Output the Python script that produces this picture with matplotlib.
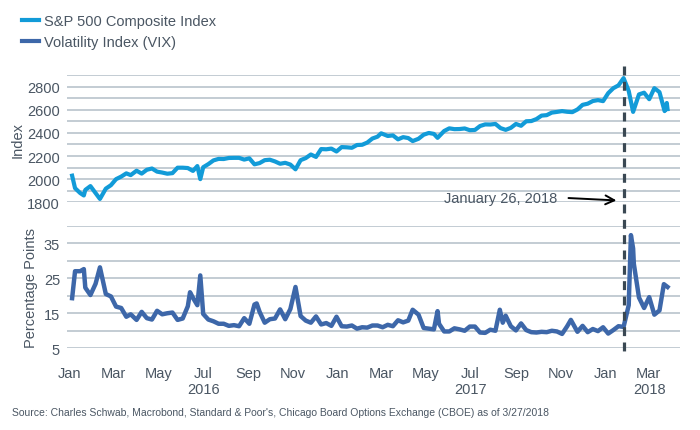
import numpy as np
import pandas as pd
import matplotlib
matplotlib.use("Agg")
import matplotlib.pyplot as plt
import matplotlib.dates as mdates
import matplotlib.transforms as mtransforms
from matplotlib.lines import Line2D

# ------------------------------------------------------------------
# Data (roughly weekly plus the turning points)
# ------------------------------------------------------------------
spx_dates = [
    "2016-01-04", "2016-01-08", "2016-01-15", "2016-01-20", "2016-01-22", "2016-01-29",
    "2016-02-05", "2016-02-11", "2016-02-19", "2016-02-26", "2016-03-04", "2016-03-11",
    "2016-03-18", "2016-03-24", "2016-04-01", "2016-04-08", "2016-04-15", "2016-04-22",
    "2016-04-29", "2016-05-06", "2016-05-13", "2016-05-20", "2016-05-27", "2016-06-03",
    "2016-06-10", "2016-06-17", "2016-06-23", "2016-06-27", "2016-07-01", "2016-07-08",
    "2016-07-15", "2016-07-22", "2016-07-29", "2016-08-05", "2016-08-12", "2016-08-19",
    "2016-08-26", "2016-09-02", "2016-09-09", "2016-09-16", "2016-09-23", "2016-09-30",
    "2016-10-07", "2016-10-14", "2016-10-21", "2016-10-28", "2016-11-04", "2016-11-11",
    "2016-11-18", "2016-11-25", "2016-12-02", "2016-12-09", "2016-12-16", "2016-12-23",
    "2016-12-30", "2017-01-06", "2017-01-13", "2017-01-20", "2017-01-27", "2017-02-03",
    "2017-02-10", "2017-02-17", "2017-02-24", "2017-03-01", "2017-03-10", "2017-03-17",
    "2017-03-24", "2017-03-31", "2017-04-07", "2017-04-13", "2017-04-21", "2017-04-28",
    "2017-05-05", "2017-05-12", "2017-05-17", "2017-05-26", "2017-06-02", "2017-06-09",
    "2017-06-16", "2017-06-23", "2017-06-30", "2017-07-07", "2017-07-14", "2017-07-21",
    "2017-07-28", "2017-08-04", "2017-08-11", "2017-08-18", "2017-08-25", "2017-09-01",
    "2017-09-08", "2017-09-15", "2017-09-22", "2017-09-29", "2017-10-06", "2017-10-13",
    "2017-10-20", "2017-10-27", "2017-11-03", "2017-11-10", "2017-11-17", "2017-11-24",
    "2017-12-01", "2017-12-08", "2017-12-15", "2017-12-22", "2017-12-29", "2018-01-05",
    "2018-01-12", "2018-01-19", "2018-01-26", "2018-02-02", "2018-02-08", "2018-02-16",
    "2018-02-23", "2018-03-02", "2018-03-09", "2018-03-16", "2018-03-23", "2018-03-26",
    "2018-03-27",
]
spx_values = [
    2030, 1922, 1880, 1859, 1907, 1940,
    1880, 1829, 1918, 1948, 2000, 2022,
    2050, 2035, 2073, 2048, 2081, 2092,
    2065, 2057, 2047, 2052, 2099, 2099,
    2096, 2071, 2113, 2000, 2103, 2130,
    2162, 2175, 2174, 2183, 2184, 2184,
    2169, 2180, 2128, 2139, 2164, 2168,
    2153, 2133, 2141, 2126, 2085, 2164,
    2182, 2213, 2192, 2260, 2258, 2264,
    2239, 2277, 2275, 2271, 2295, 2297,
    2316, 2351, 2367, 2396, 2373, 2378,
    2344, 2363, 2355, 2329, 2349, 2384,
    2399, 2391, 2357, 2416, 2439, 2432,
    2433, 2438, 2423, 2425, 2459, 2473,
    2472, 2477, 2441, 2426, 2443, 2477,
    2461, 2500, 2502, 2519, 2549, 2553,
    2575, 2581, 2588, 2582, 2579, 2602,
    2642, 2652, 2675, 2683, 2674, 2743,
    2786, 2810, 2873, 2762, 2581, 2732,
    2747, 2691, 2786, 2752, 2588, 2658,
    2605,
]

vix_dates = [
    "2016-01-04", "2016-01-08", "2016-01-15", "2016-01-20", "2016-01-22", "2016-01-29",
    "2016-02-05", "2016-02-11", "2016-02-19", "2016-02-26", "2016-03-04", "2016-03-11",
    "2016-03-18", "2016-03-24", "2016-04-01", "2016-04-08", "2016-04-15", "2016-04-22",
    "2016-04-29", "2016-05-06", "2016-05-13", "2016-05-20", "2016-05-27", "2016-06-03",
    "2016-06-10", "2016-06-13", "2016-06-17", "2016-06-23", "2016-06-27", "2016-07-01",
    "2016-07-08", "2016-07-15", "2016-07-22", "2016-07-29", "2016-08-05", "2016-08-12",
    "2016-08-19", "2016-08-26", "2016-09-02", "2016-09-09", "2016-09-12", "2016-09-16",
    "2016-09-23", "2016-09-30", "2016-10-07", "2016-10-14", "2016-10-21", "2016-10-28",
    "2016-11-04", "2016-11-11", "2016-11-18", "2016-11-25", "2016-12-02", "2016-12-09",
    "2016-12-16", "2016-12-23", "2016-12-30", "2017-01-06", "2017-01-13", "2017-01-20",
    "2017-01-27", "2017-02-03", "2017-02-10", "2017-02-17", "2017-02-24", "2017-03-03",
    "2017-03-10", "2017-03-17", "2017-03-24", "2017-03-31", "2017-04-07", "2017-04-13",
    "2017-04-21", "2017-04-28", "2017-05-05", "2017-05-12", "2017-05-17", "2017-05-19",
    "2017-05-26", "2017-06-02", "2017-06-09", "2017-06-16", "2017-06-23", "2017-06-30",
    "2017-07-07", "2017-07-14", "2017-07-21", "2017-07-28", "2017-08-04", "2017-08-10",
    "2017-08-14", "2017-08-18", "2017-08-25", "2017-09-01", "2017-09-08", "2017-09-15",
    "2017-09-22", "2017-09-29", "2017-10-06", "2017-10-13", "2017-10-20", "2017-10-27",
    "2017-11-03", "2017-11-10", "2017-11-15", "2017-11-24", "2017-12-01", "2017-12-08",
    "2017-12-15", "2017-12-22", "2017-12-29", "2018-01-05", "2018-01-12", "2018-01-19",
    "2018-01-26", "2018-02-02", "2018-02-05", "2018-02-08", "2018-02-09", "2018-02-16",
    "2018-02-23", "2018-03-02", "2018-03-09", "2018-03-16", "2018-03-22", "2018-03-27",
]
vix_values = [
    19.3, 27.0, 27.0, 27.6, 22.3, 20.2,
    23.4, 28.1, 20.5, 19.8, 16.9, 16.5,
    14.0, 14.7, 13.1, 15.4, 13.6, 13.2,
    15.7, 14.7, 15.0, 15.2, 13.1, 13.5,
    17.0, 21.0, 19.4, 17.3, 25.8, 14.8,
    13.2, 12.7, 12.0, 12.0, 11.4, 11.6,
    11.3, 13.6, 12.0, 17.5, 17.8, 15.4,
    12.3, 13.3, 13.5, 16.1, 13.3, 16.2,
    22.5, 14.2, 12.9, 12.3, 14.1, 11.8,
    12.2, 11.4, 14.0, 11.3, 11.2, 11.5,
    10.6, 11.0, 10.9, 11.5, 11.5, 11.0,
    11.7, 11.3, 13.0, 12.4, 12.9, 16.0,
    14.6, 10.8, 10.6, 10.4, 15.6, 12.0,
    9.8, 9.8, 10.7, 10.4, 10.0, 11.2,
    11.2, 9.5, 9.4, 10.3, 10.0, 16.0,
    12.3, 14.3, 11.3, 10.1, 12.1, 10.2,
    9.6, 9.5, 9.7, 9.6, 10.0, 9.8,
    9.1, 11.3, 13.1, 9.7, 11.4, 9.6,
    10.5, 9.9, 11.0, 9.2, 10.2, 11.3,
    11.1, 17.3, 37.3, 33.5, 29.1, 19.5,
    16.5, 19.6, 14.6, 15.8, 23.3, 22.5,
]

spx_label = "S&P 500 Composite Index"
vix_label = "Volatility Index (VIX)"
event_date = "2018-01-26"
event_label = "January 26, 2018"
year_labels = ["2016", "2017", "2018"]
year_label_dates = ["2016-07-01", "2017-07-01", "2018-03-02"]
source_text = ("Source: Charles Schwab, Macrobond, Standard & Poor's, "
               "Chicago Board Options Exchange (CBOE) as of 3/27/2018")

# ------------------------------------------------------------------
# Style
# ------------------------------------------------------------------
plt.rcParams["font.family"] = ["Liberation Sans", "DejaVu Sans"]
color_spx = "#129bd8"
color_vix = "#3d67a9"
color_grid = "#b9c3cc"
color_text = "#4a5663"
color_event = "#3a4853"
fs = 10.5

spx_t = pd.to_datetime(spx_dates)
vix_t = pd.to_datetime(vix_dates)
x_min = pd.Timestamp("2015-12-28")
x_max = pd.Timestamp("2018-04-13")

fig = plt.figure(figsize=(7, 4.31), dpi=100)
ax_top = fig.add_axes([0.0957, 0.5283, 0.8757, 0.2954])
ax_bot = fig.add_axes([0.0957, 0.1896, 0.8757, 0.2845])

for ax in (ax_top, ax_bot):
    for s in ax.spines.values():
        s.set_visible(False)
    ax.set_xlim(x_min, x_max)
    ax.grid(True, axis="y", which="both", color=color_grid, linewidth=1.2)
    ax.set_axisbelow(True)
    ax.tick_params(axis="both", which="both", length=0, labelsize=fs,
                   labelcolor=color_text)
    ax.tick_params(axis="y", pad=5)

# Top panel: S&P 500
ax_top.plot(spx_t, spx_values, color=color_spx, linewidth=3, solid_joinstyle="round")
ax_top.set_ylim(1800, 2900)
ax_top.set_yticks([1800, 2000, 2200, 2400, 2600, 2800])
ax_top.set_yticks(np.arange(1900, 2901, 200), minor=True)
ax_top.set_xticks([])
ax_top.set_ylabel("Index", fontsize=fs, color=color_text, labelpad=2)

# Bottom panel: VIX
ax_bot.plot(vix_t, vix_values, color=color_vix, linewidth=3.2, solid_joinstyle="round")
ax_bot.set_ylim(5, 40)
ax_bot.set_yticks([5, 15, 25, 35])
ax_bot.set_yticks([10, 20, 30, 40], minor=True)
ax_bot.set_ylabel("Percentage Points", fontsize=fs, color=color_text, labelpad=4)
ax_bot.xaxis.set_major_locator(mdates.MonthLocator(bymonth=[1, 3, 5, 7, 9, 11]))
ax_bot.xaxis.set_major_formatter(mdates.DateFormatter("%b"))
ax_bot.tick_params(axis="x", pad=13)

for lbl, d in zip(year_labels, year_label_dates):
    ax_bot.text(pd.Timestamp(d), -0.335, lbl, transform=ax_bot.get_xaxis_transform(),
                ha="center", va="center", fontsize=fs, color=color_text)

# Event line spanning both panels
trans = mtransforms.blended_transform_factory(ax_bot.transData, fig.transFigure)
ev_x = mdates.date2num(pd.Timestamp(event_date))
ev_line = Line2D([ev_x, ev_x], [1 - 67 / 431, 1 - 358 / 431], transform=trans,
                 color=color_event, linewidth=2.3, clip_on=False)
ev_line.set_dashes((2.8, 2.0))
fig.add_artist(ev_line)

# Annotation
ax_top.annotate("", xy=(pd.Timestamp("2018-01-20"), 1815),
                xytext=(pd.Timestamp("2017-11-08"), 1838),
                arrowprops=dict(arrowstyle="->", color="black", lw=1.4,
                                mutation_scale=16))
ax_top.text(pd.Timestamp("2017-10-28"), 1838, event_label, ha="right", va="center",
            fontsize=fs, color=color_text)

# Legend
handles = [Line2D([], [], color=color_spx, linewidth=3),
           Line2D([], [], color=color_vix, linewidth=3)]
fig.legend(handles, [spx_label, vix_label], loc="upper left",
           bbox_to_anchor=(0.012, 0.995), frameon=False, fontsize=fs,
           labelcolor=color_text, handlelength=1.2, handletextpad=0.35,
           labelspacing=0.45)

fig.text(0.017, 1 - 413 / 431, source_text, fontsize=7.5, color=color_text,
         ha="left", va="center")

fig.savefig("out.png", dpi=100)
